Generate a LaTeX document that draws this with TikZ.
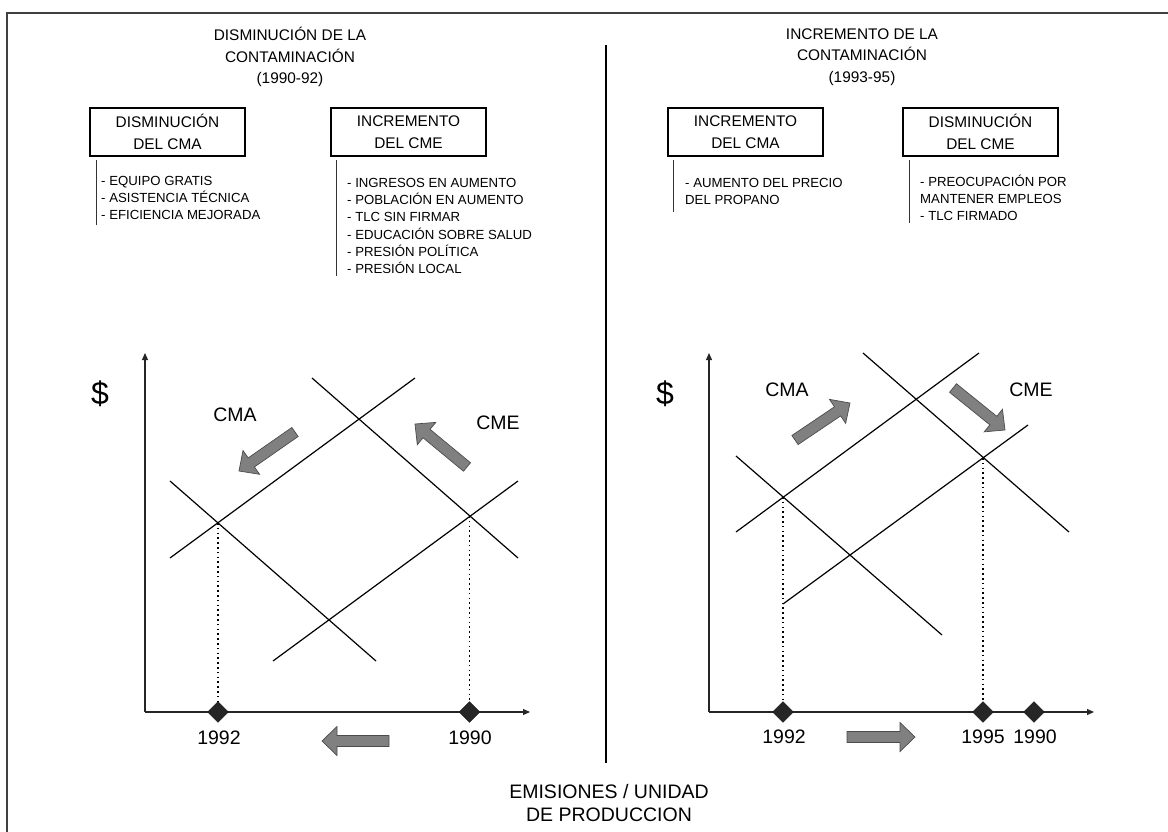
\documentclass[tikz,border=0pt]{standalone}
\usepackage{fontspec}
\setmainfont{Liberation Sans}
\usetikzlibrary{calc,arrows.meta,shapes.geometric}
\newcommand{\hdfont}{\fontsize{15.4}{21.5}\selectfont}
\newcommand{\lstfont}{\fontsize{13.2}{17.2}\selectfont}
\newcommand{\lblfont}{\fontsize{19.5}{23}\selectfont}
\newcommand{\dolfont}{\fontsize{32}{32}\selectfont}
% block arrow from tail #1 to tip #2
\newcommand{\shiftarrow}[2]{%
  \coordinate (hb) at ($(#2)!15pt!(#1)$);
  \draw[shiftfill] ($(#1)!5.5pt!90:(#2)$) -- ($(hb)!5.5pt!-90:(#1)$)
    -- ($(hb)!14.5pt!-90:(#1)$) -- (#2) -- ($(hb)!14.5pt!90:(#1)$)
    -- ($(hb)!5.5pt!90:(#1)$) -- ($(#1)!5.5pt!-90:(#2)$) -- cycle;}
\begin{document}
\begin{tikzpicture}[x=1pt,y=-1pt,
  framerule/.style={draw=black!75, line width=1.6pt},
  divider/.style={draw=black, line width=1.4pt},
  titlebox/.style={draw=black, line width=1.2pt, minimum width=155pt,
    minimum height=48pt, align=center, inner sep=0pt, font=\hdfont},
  heading/.style={align=center, inner sep=0pt, font=\hdfont},
  itemlist/.style={align=left, anchor=west, inner sep=0pt, font=\lstfont},
  listbar/.style={draw=black!80, line width=0.9pt},
  axis/.style={draw=black!85, line width=1.1pt, -{Triangle[length=7pt,width=6pt]}},
  curve/.style={draw=black, line width=1.2pt},
  guide/.style={draw=black, line width=1.6pt, dash pattern=on 1.6pt off 3.2pt},
  yearmark/.style={draw=black!90, fill=black!85, shape=diamond, minimum size=21pt, inner sep=0pt},
  yearlbl/.style={font=\lblfont, inner sep=0pt},
  curvelbl/.style={font=\lblfont, inner sep=0pt},
  shiftfill/.style={draw=black!70, fill=black!50, line width=0.7pt, line join=miter},
]
\useasboundingbox (0,0) rectangle (1168,832);

% outer frame (top and left edges) and central divider
\draw[framerule] (7,832) -- (7,13) -- (1168,13);
\draw[divider] (606,45) -- (606,763);

% ---------------- left half: decreasing pollution ----------------
\node[heading] (hL) at (290,57) {DISMINUCIÓN DE LA\\CONTAMINACIÓN\\(1990-92)};
\node[titlebox] (bL1) at (167.5,132) {DISMINUCIÓN\\DEL CMA};
\node[titlebox] (bL2) at (408.5,132) {INCREMENTO\\DEL CME};
\draw[listbar] (96,160) -- (96,225);
\node[itemlist] (lL1) at (101,198) {- EQUIPO GRATIS\\- ASISTENCIA TÉCNICA\\- EFICIENCIA MEJORADA};
\draw[listbar] (336,160) -- (336,276);
\node[itemlist] (lL2) at (347,226) {- INGRESOS EN AUMENTO\\- POBLACIÓN EN AUMENTO\\- TLC SIN FIRMAR\\- EDUCACIÓN SOBRE SALUD\\- PRESIÓN POLÍTICA\\- PRESIÓN LOCAL};

% left chart
\coordinate (oL) at (145,712);
\coordinate (yL) at (145,353);
\coordinate (xL) at (530,712);
\draw[axis] (oL) -- (yL);
\draw[axis] (oL) -- (xL);
\node[font=\dolfont, inner sep=0pt] (dL) at (100,394) {\$};
\coordinate (La1) at (170,558); \coordinate (La2) at (415,378);
\coordinate (Lb1) at (273,661); \coordinate (Lb2) at (518,481);
\coordinate (Lc1) at (170,481); \coordinate (Lc2) at (376,661);
\coordinate (Ld1) at (312,378); \coordinate (Ld2) at (518,558);
\draw[curve] (La1) -- (La2);
\draw[curve] (Lb1) -- (Lb2);
\draw[curve] (Lc1) -- (Lc2);
\draw[curve] (Ld1) -- (Ld2);
\coordinate (eL92) at (218,523);
\coordinate (eL90) at (469.5,516);
\node[yearmark] (mL92) at (218,712) {};
\node[yearmark] (mL90) at (469.5,712) {};
\draw[guide] (eL92) -- (mL92.north);
\draw[guide] (eL90) -- (mL90.north);
\node[yearlbl] (tL92) at (219,738) {1992};
\node[yearlbl] (tL90) at (470,738) {1990};
\node[curvelbl] (cmaL) at (235,415) {CMA};
\node[curvelbl] (cmeL) at (498,423) {CME};
\coordinate (aL1t) at (295,432); \coordinate (aL1h) at (239,471);
\coordinate (aL2t) at (467,467); \coordinate (aL2h) at (415,424);
\coordinate (aL3t) at (389,741); \coordinate (aL3h) at (322,741);
\shiftarrow{aL1t}{aL1h}
\shiftarrow{aL2t}{aL2h}
\shiftarrow{aL3t}{aL3h}

% ---------------- right half: increasing pollution ----------------
\node[heading] (hR) at (862,57) {INCREMENTO DE LA\\CONTAMINACIÓN\\(1993-95)};
\node[titlebox] (bR1) at (745.5,132) {INCREMENTO\\DEL CMA};
\node[titlebox] (bR2) at (980.5,132) {DISMINUCIÓN\\DEL CME};
\draw[listbar] (673,160) -- (673,212);
\node[itemlist] (lR1) at (685,191.5) {- AUMENTO DEL PRECIO\\DEL PROPANO};
\draw[listbar] (909,160) -- (909,223);
\node[itemlist] (lR2) at (920,198) {- PREOCUPACIÓN POR\\MANTENER EMPLEOS\\- TLC FIRMADO};

% right chart
\coordinate (oR) at (709,712);
\coordinate (yR) at (709,353);
\coordinate (xR) at (1094,712);
\draw[axis] (oR) -- (yR);
\draw[axis] (oR) -- (xR);
\node[font=\dolfont, inner sep=0pt] (dR) at (665,394) {\$};
\coordinate (Ra1) at (736,532); \coordinate (Ra2) at (979,353);
\coordinate (Rb1) at (783,604); \coordinate (Rb2) at (1028,425);
\coordinate (Rc1) at (736,456); \coordinate (Rc2) at (942,635);
\coordinate (Rd1) at (863,353); \coordinate (Rd2) at (1069,532);
\draw[curve] (Ra1) -- (Ra2);
\draw[curve] (Rb1) -- (Rb2);
\draw[curve] (Rc1) -- (Rc2);
\draw[curve] (Rd1) -- (Rd2);
\coordinate (eR92) at (783,497);
\coordinate (eR95) at (983,458);
\node[yearmark] (mR92) at (783,712) {};
\node[yearmark] (mR95) at (983,712) {};
\node[yearmark] (mR90) at (1034,712) {};
\draw[guide] (eR92) -- (mR92.north);
\draw[guide] (eR95) -- (mR95.north);
\node[yearlbl] (tR92) at (784,737) {1992};
\node[yearlbl] (tR95) at (983,737) {1995};
\node[yearlbl] (tR90) at (1035,737) {1990};
\node[curvelbl] (cmaR) at (787,390) {CMA};
\node[curvelbl] (cmeR) at (1031,390) {CME};
\coordinate (aR1t) at (795,440); \coordinate (aR1h) at (850,403);
\coordinate (aR2t) at (953,388); \coordinate (aR2h) at (1005,430);
\coordinate (aR3t) at (847,737); \coordinate (aR3h) at (915,737);
\shiftarrow{aR1t}{aR1h}
\shiftarrow{aR2t}{aR2h}
\shiftarrow{aR3t}{aR3h}

% horizontal axis caption
\node[align=center, inner sep=0pt, font=\fontsize{19.5}{23}\selectfont] (xcap) at (609,803.5) {EMISIONES / UNIDAD\\DE PRODUCCION};
\end{tikzpicture}
\end{document}
